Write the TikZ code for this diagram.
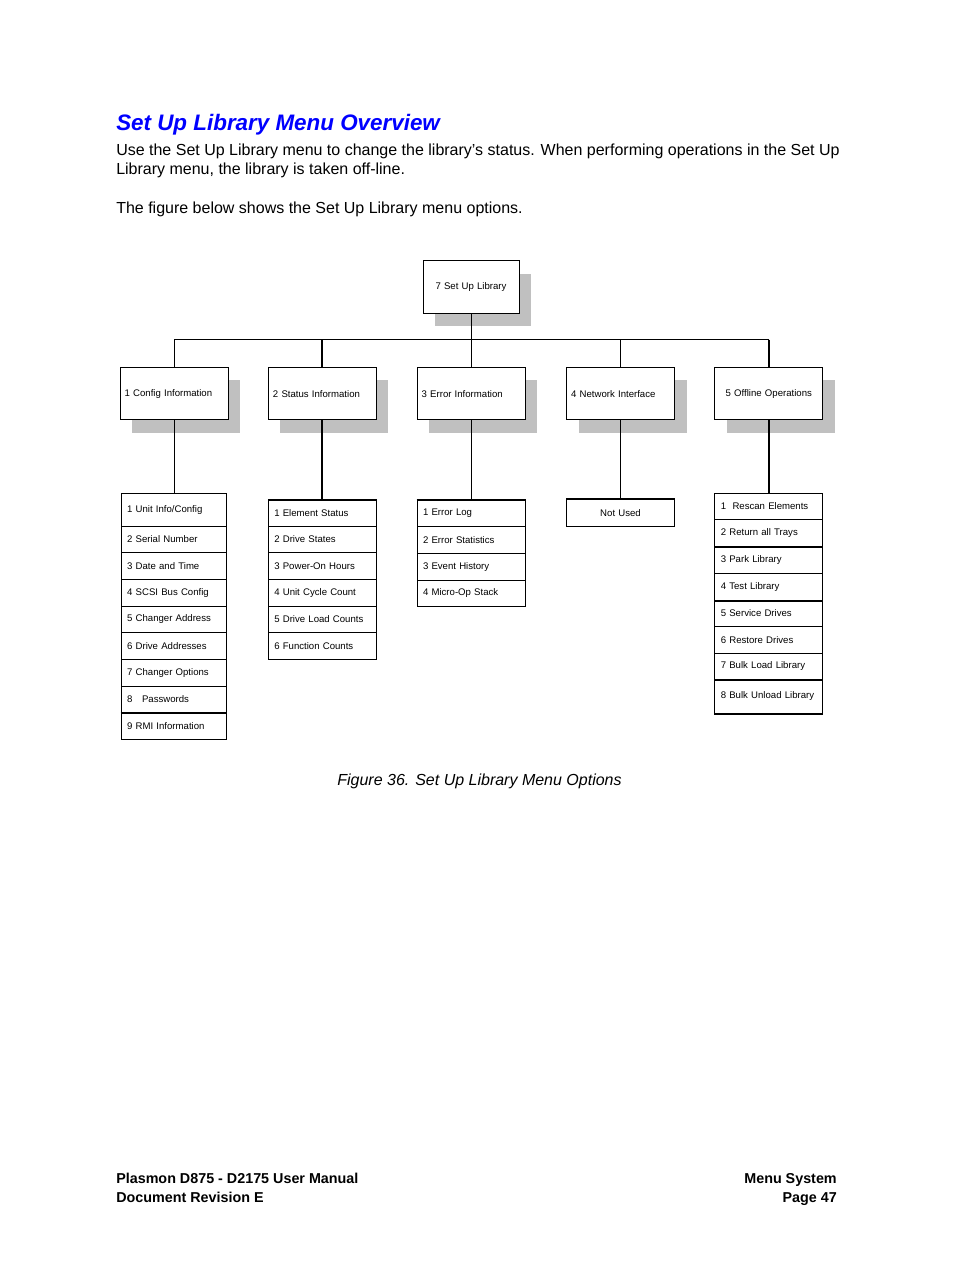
\documentclass[tikz,border=0pt]{standalone}
\usepackage{fontspec}
\setmainfont{Liberation Sans}
\usetikzlibrary{shadows}
\definecolor{titleblue}{RGB}{0,0,255}
\definecolor{shadowgray}{RGB}{192,192,192}

\begin{document}
\begin{tikzpicture}[x=0.75pt,y=-0.75pt,
    menu/.style={draw,line width=0.75pt,fill=white,minimum height=39.5pt,text width=74pt,
      inner xsep=3.5pt,align=left,font=\fontsize{7.2}{8.5}\selectfont,
      drop shadow={shadow xshift=9pt,shadow yshift=-9.75pt,fill=shadowgray,opacity=1}},
    item/.style={draw,line width=0.75pt,fill=white,text width=72pt,inner xsep=4.5pt,
      inner ysep=0pt,align=left,font=\fontsize{7.2}{8.5}\selectfont},
    wire/.style={line width=0.75pt},
    heavy/.style={line width=1.5pt},
    body/.style={anchor=base west,inner sep=0pt,font=\fontsize{12}{14}\selectfont},
    foot/.style={inner sep=0pt,font=\fontsize{10.75}{12}\selectfont\bfseries}]
    % page
    \fill[white] (0,0) rectangle (954,1270);
    \useasboundingbox (0,0) rectangle (954,1270);

    \node[anchor=base west,inner sep=0pt,text=titleblue,
          font=\fontsize{16.8}{20}\selectfont\bfseries\itshape] (title) at (116,130) {Set Up Library Menu Overview};
    \node[body] (intro1) at (116,155) {Use the Set Up Library menu to change the library’s status. When performing operations in the Set Up};
    \node[body] (intro2) at (116,174) {Library menu, the library is taken off-line.};
    \node[body] (intro3) at (116,213) {The figure below shows the Set Up Library menu options.};

    % menu tree
    \node[menu,text width=65pt,align=center,minimum height=39.2pt] (lib) at (471,286.9) {7 Set Up Library};
    \node[menu] (cfg) at (174,393.6) {1 Config\ Information};
    \node[menu] (sts) at (322.3,393.6) {2\ Status\ Information};
    \node[menu] (err) at (471,393.6) {3 Error\ Information};
    \node[menu] (net) at (620.5,393.6) {4 Network Interface};
    \node[menu,align=center] (off) at (768.8,393.6) {5 Offline\ Operations};

    \coordinate (bus) at (471,339.5);
    \draw[wire] (lib.south) -- (lib.south |- bus);
    \draw[wire] (cfg.north |- bus) -- (off.north |- bus);
    \draw[wire] (cfg.north |- bus) -- (cfg.north);
    \draw[heavy] (sts.north |- bus) -- (sts.north);
    \draw[wire] (err.north |- bus) -- (err.north);
    \draw[wire] (net.north |- bus) -- (net.north);
    \draw[heavy] (off.north |- bus) -- (off.north);

    \foreach \txt/\t/\b [count=\i] in {{1 Unit Info/Config}/493.3/526, {2 Serial Number}/526/552.7,
        {3 Date and Time}/552.7/579.3, {4 SCSI Bus Config}/579.3/606, {5 Changer\ Address}/606/632.7,
        {6 Drive\ Addresses}/632.7/659.3, {7 Changer\ Options}/659.3/686, {8\ \ \ Passwords}/686/712.7,
        {9 RMI Information}/712.7/739.3}
      \node[item,text width=70.3pt,minimum height={(\b-\t)*0.75pt}] (cfg\i) at (174,{(\t+\b)/2}) {\txt};

    \foreach \txt/\t/\b [count=\i] in {{1\ Element Status}/500/526, {2 Drive States}/526/552.7,
        {3 Power-On Hours}/552.7/579.3, {4 Unit Cycle Count}/579.3/606,
        {5 Drive Load Counts}/606/632.7, {6 Function Counts}/632.7/659.3}
      \node[item,minimum height={(\b-\t)*0.75pt}] (sts\i) at (322.3,{(\t+\b)/2}) {\txt};

    \foreach \txt/\t/\b [count=\i] in {{1 Error Log}/500/526.7, {2 Error Statistics}/526.7/553.3,
        {3 Event History}/553.3/580, {4 Micro-Op Stack}/580/606}
      \node[item,minimum height={(\b-\t)*0.75pt}] (err\i) at (471,{(\t+\b)/2}) {\txt};

    \node[item,align=center,minimum height=20pt] (net1) at (620.5,513.3) {Not Used};

    \foreach \txt/\t/\b [count=\i] in {{1\ \ Rescan\ Elements}/493.3/519.3, {2 Return all Trays}/519.3/546,
        {3 Park Library}/546/573.3, {4 Test Library}/573.3/600, {5 Service Drives}/600/626.7,
        {6\ Restore Drives}/626.7/653.3, {7 Bulk Load Library}/653.3/679.3,
        {8 Bulk Unload Library}/679.3/713.3}
      \node[item,minimum height={(\b-\t)*0.75pt}] (off\i) at (768.8,{(\t+\b)/2}) {\txt};

    \draw[wire] (cfg.south) -- (cfg1.north);
    \draw[heavy] (sts.south) -- (sts1.north);
    \draw[wire] (err.south) -- (err1.north);
    \draw[wire] (net.south) -- (net1.north);
    \draw[heavy] (off.south) -- (off1.north);

    % heavier rules
    \draw[heavy] (cfg8.south west) -- (cfg8.south east);
    \draw[heavy] (sts1.north west) -- (sts1.north east);
    \draw[heavy] (err1.north west) -- (err1.north east);
    \draw[heavy] (net1.north west) -- (net1.north east);
    \draw[heavy] (off2.south west) -- (off2.south east);
    \draw[heavy] (off4.south west) -- (off4.south east);
    \draw[heavy] (off7.south west) -- (off7.south east);
    \draw[heavy] (off8.south west) -- (off8.south east);

    \node[anchor=base,inner sep=0pt,font=\fontsize{12}{14}\selectfont\itshape] (caption) at (479.5,785) {Figure 36. Set Up Library Menu Options};

    \node[foot,anchor=base west] (manual) at (116,1183) {Plasmon D875 - D2175 User Manual};
    \node[foot,anchor=base west] (revision) at (116,1202) {Document Revision E};
    \node[foot,anchor=base east] (chapter) at (837,1183) {Menu System};
    \node[foot,anchor=base east] (page) at (837,1202) {Page 47};
\end{tikzpicture}
\end{document}
